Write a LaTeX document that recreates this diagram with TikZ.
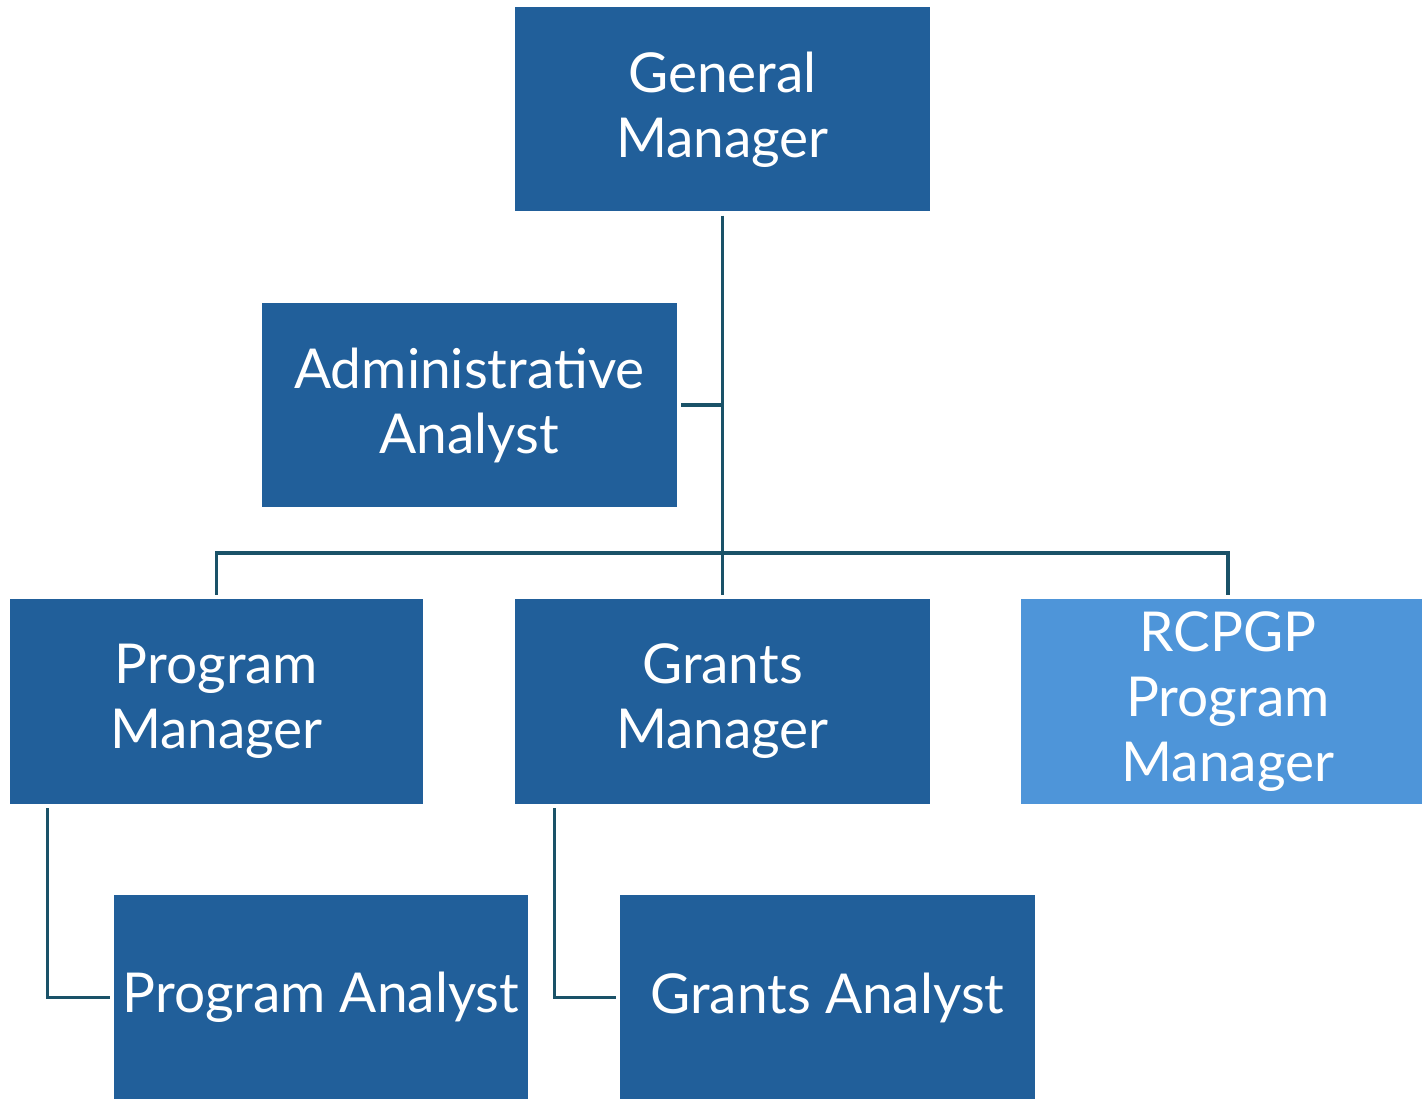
\documentclass[tikz,border=0pt]{standalone}
\usepackage{fontspec}
\setmainfont{Lato}
\usetikzlibrary{calc}
\definecolor{boxdark}{HTML}{215F9A}
\definecolor{boxlight}{HTML}{4E95D9}
\definecolor{linecol}{HTML}{1A5268}
\tikzset{
  orgbox/.style={fill=boxdark, draw=none, minimum width=415pt, minimum height=204pt,
    inner sep=0pt, text=white, align=center,
    font=\fontsize{55}{65}\selectfont},
  lightbox/.style={orgbox, fill=boxlight},
  conn/.style={draw=linecol, line width=3.2pt, shorten <=4pt, shorten >=4pt}
}
\begin{document}
\begin{tikzpicture}[x=1pt,y=-1pt]
\clip (0,0) rectangle (1422,1099);
\fill[white] (0,0) rectangle (1422,1099);
\node[orgbox] (gm) at (722.5,109.5) {General\\Manager};
\node[orgbox] (aa) at (469.5,405) {Administrative\\Analyst};
\node[orgbox, minimum width=413pt, minimum height=205pt] (pm) at (216.5,701.5) {Program\\Manager};
\node[orgbox, minimum height=205pt] (grm) at (722.5,701.5) {Grants\\Manager};
\node[lightbox, minimum height=205pt] (rc) at (1228,701.5) {RCPGP\\Program\\Manager};
\node[orgbox, minimum width=414pt, minimum height=205pt] (pa) at (321,997.5) {Program Analyst};
\node[orgbox, minimum height=205pt] (ga) at (827.5,997.5) {Grants Analyst};
\coordinate (bus) at (722,553);
\draw[conn] (gm.south) -- (grm.north);
\draw[conn, shorten >=0pt] (aa.east) -- (aa.east -| gm.south);
\draw[conn] (pm.north) |- (bus) -| (rc.north);
\draw[conn] ($(pm.south west)+(38,0)$) |- (pa.west);
\draw[conn] ($(grm.south west)+(40,0)$) |- (ga.west);
\end{tikzpicture}
\end{document}
